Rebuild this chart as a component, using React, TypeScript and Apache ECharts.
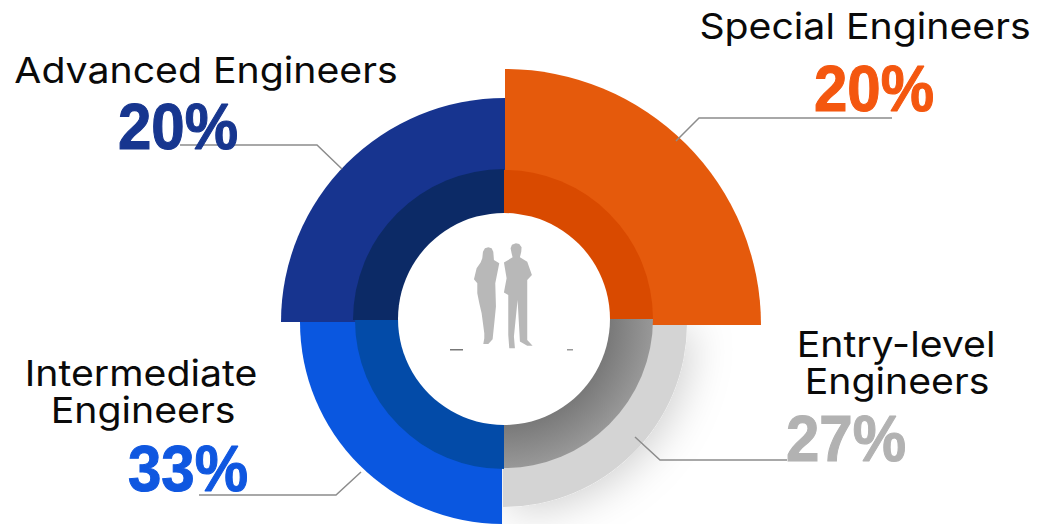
import React, { useEffect, useRef } from "react";
import * as echarts from "echarts";

// Clockwise from 12 o'clock
const categories = ["Special Engineers", "Entry-level Engineers", "Intermediate Engineers", "Advanced Engineers"];
const percentLabels = ["20%", "27%", "33%", "20%"];
const quadrantShare = [25, 25, 25, 25];

const outerRadius = [256, 184, 202, 224];
const outerCenter = [[505, 325], [503, 323], [502, 322], [505, 322]];
const outerColor = ["#E55A0C", "#D4D4D4", "#0A57E0", "#17348F"];
const ringCenter = [[504, 319], [504, 319], [504, 320], [504, 320]];
const ringRadius = [149, 149, 149, 151];
const ringColor: any[] = [
  "#D94A00",
  {
    type: "radial", x: 0, y: 0, r: 1,
    colorStops: [
      { offset: 0.7, color: "#787878" },
      { offset: 1, color: "#989898" },
    ],
  },
  "#034BA8",
  "#0C2A66",
];
const drawOrder = [1, 2, 3, 0];

const titleLines = [
  { text: "Special Engineers", x: 865, y: 44 },
  { text: "Advanced Engineers", x: 206, y: 88 },
  { text: "Intermediate", x: 141, y: 391 },
  { text: "Engineers", x: 143, y: 428 },
  { text: "Entry-level", x: 896, y: 362 },
  { text: "Engineers", x: 897, y: 399 },
];
const percentPos = [[874, 121], [846, 471], [188, 501], [178, 159]];
const percentColor = ["#F4570F", "#B2B2B2", "#0F57E0", "#17368F"];
const leaders = [
  [[892, 118], [699, 118], [676, 141]],
  [[787, 460], [660, 460], [635, 437]],
  [[199, 495], [336, 495], [361, 472]],
  [[180, 145], [317, 145], [342, 169]],
];

const woman = [[145,82],[135,85],[129,95],[127,115],[122,128],[110,145],[102,178],[112,190],[112,220],[118,250],[125,280],[133,340],[133,355],[130,372],[145,372],[158,358],[164,300],[168,260],[166,190],[178,130],[162,120],[160,95],[155,85]];
const man = [[228,70],[216,74],[212,85],[215,100],[218,112],[192,128],[200,175],[192,218],[205,225],[205,345],[208,385],[225,385],[222,350],[233,240],[240,365],[262,378],[278,378],[262,360],[262,230],[262,180],[276,165],[262,125],[240,112],[244,95],[245,82],[238,72]];

export default function App() {
  const ref = useRef<HTMLDivElement>(null);
  useEffect(() => {
    document.body.style.margin = "0";
    const chart = echarts.init(ref.current!, undefined, { renderer: "svg" });
    const pie = (i: number, center: number[], r0: number, r: number, color: any, extra: any = {}) => ({
      type: "pie",
      silent: true,
      startAngle: 90,
      clockwise: true,
      center,
      radius: [r0, r],
      label: { show: false },
      labelLine: { show: false },
      emphasis: { disabled: true },
      data: categories.map((name, j) => ({
        name,
        value: quadrantShare[j],
        itemStyle: j === i ? { color, ...extra } : { color: "rgba(0,0,0,0)" },
      })),
    });
    const series: any[] = [
      ...drawOrder.map((i) =>
        pie(i, outerCenter[i], 0, outerRadius[i], outerColor[i],
          i === 1 ? { shadowBlur: 40, shadowColor: "rgba(0,0,0,0.18)", shadowOffsetX: 6, shadowOffsetY: 6 } : {})
      ),
      ...drawOrder.map((i) => pie(i, ringCenter[i], 0, ringRadius[i], ringColor[i])),
    ];
    const graphic: any[] = [
      { type: "circle", z: 10, shape: { cx: 504, cy: 319, r: 106 }, style: { fill: "#fff" } },
      ...leaders.map((points) => ({
        type: "polyline", z: 20, shape: { points },
        style: { stroke: "#8C8C8C", lineWidth: 1.5, fill: "none" },
      })),
      ...[woman, man].map((p) => ({
        type: "polygon", z: 11, x: 440, y: 220, scaleX: 1 / 3, scaleY: 1 / 3,
        shape: { points: p },
        style: { fill: "#B8B8B8" },
      })),
      { type: "rect", z: 11, shape: { x: 450, y: 349, width: 13, height: 1.5 }, style: { fill: "#777" } },
      { type: "rect", z: 11, shape: { x: 567, y: 349, width: 6, height: 1.5 }, style: { fill: "#999" } },
      ...titleLines.map((t) => ({
        type: "text", z: 30, x: t.x, y: t.y, scaleX: 1.09,
        style: {
          text: t.text, x: 0, y: 0, fill: "#0A0A0A", textAlign: "center", textVerticalAlign: "bottom",
          font: '400 36px Inter',
        },
      })),
      ...percentLabels.map((text, i) => ({
        type: "text", z: 25, x: percentPos[i][0], y: percentPos[i][1], scaleY: 1.08,
        style: {
          text, x: 0, y: 0, fill: percentColor[i], textAlign: "center", textVerticalAlign: "bottom",
          font: 'bold 60px "Liberation Sans"',
          stroke: percentColor[i], lineWidth: 1,
        },
      })),
    ];
    chart.setOption({ animation: false, backgroundColor: "#fff", series, graphic });
    return () => chart.dispose();
  }, []);
  return <div ref={ref} style={{ width: 1049, height: 524 }} />;
}
